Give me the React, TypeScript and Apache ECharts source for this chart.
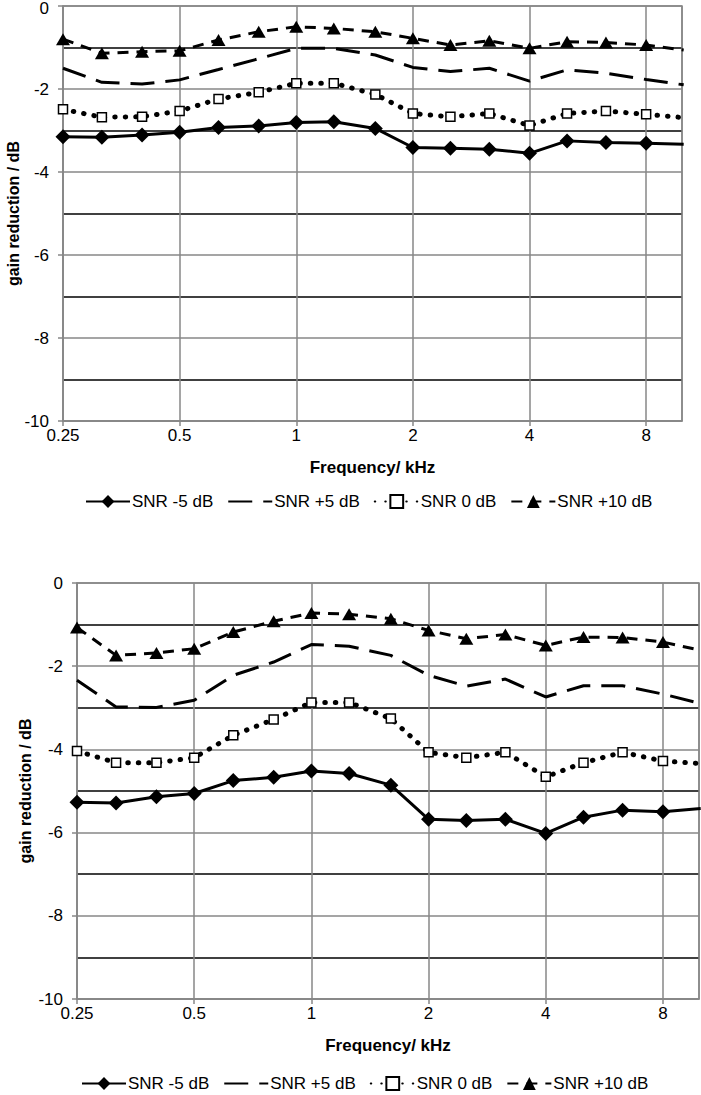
import React, { useEffect, useRef } from "react";
import * as echarts from "echarts";

const FONT = "'Liberation Sans', Arial, sans-serif";

const freqs = [0.25, 0.315, 0.4, 0.5, 0.63, 0.8, 1, 1.25, 1.6, 2, 2.5, 3.15, 4, 5, 6.3, 8, 10];
const seriesNames = ["SNR -5 dB", "SNR +5 dB", "SNR 0 dB", "SNR +10 dB"];
const yTicks = [0, -2, -4, -6, -8, -10];
const xTickLabels = ["0.25", "0.5", "1", "2", "4", "8"];

// top panel
const topM5 = [-3.15, -3.16, -3.11, -3.04, -2.93, -2.89, -2.81, -2.79, -2.95, -3.41, -3.43, -3.45, -3.55, -3.25, -3.29, -3.31, -3.33];
const topP5 = [-1.5, -1.84, -1.88, -1.78, -1.53, -1.27, -1.02, -1.02, -1.18, -1.48, -1.58, -1.5, -1.81, -1.54, -1.62, -1.77, -1.9];
const top0 = [-2.49, -2.68, -2.67, -2.53, -2.24, -2.08, -1.86, -1.86, -2.13, -2.59, -2.67, -2.59, -2.88, -2.59, -2.53, -2.61, -2.69];
const topP10 = [-0.8, -1.14, -1.1, -1.08, -0.82, -0.62, -0.5, -0.54, -0.62, -0.78, -0.94, -0.84, -1.02, -0.86, -0.88, -0.94, -1.06];

// bottom panel
const botM5 = [-5.27, -5.29, -5.14, -5.06, -4.75, -4.67, -4.52, -4.58, -4.86, -5.68, -5.71, -5.68, -6.02, -5.63, -5.46, -5.5, -5.42];
const botP5 = [-2.34, -2.98, -2.99, -2.82, -2.22, -1.9, -1.48, -1.52, -1.74, -2.22, -2.48, -2.31, -2.74, -2.47, -2.47, -2.67, -2.9];
const bot0 = [-4.04, -4.32, -4.32, -4.2, -3.66, -3.28, -2.87, -2.87, -3.26, -4.07, -4.2, -4.07, -4.66, -4.32, -4.07, -4.28, -4.34];
const botP10 = [-1.07, -1.74, -1.68, -1.58, -1.18, -0.92, -0.72, -0.75, -0.86, -1.14, -1.34, -1.24, -1.5, -1.3, -1.31, -1.42, -1.62];

const GRAY = "#878787";
const FS = 17;

function xAxisFor(gridIndex: number) {
  return {
    type: "log",
    logBase: 2,
    min: 0.25,
    max: 9.9,
    gridIndex,
    name: "Frequency/ kHz",
    nameLocation: "middle",
    nameGap: 38,
    nameTextStyle: { fontFamily: FONT, fontWeight: "bold", fontSize: FS, color: "#000" },
    axisLine: { show: true, onZero: false, lineStyle: { color: GRAY, width: 1.5 } },
    axisTick: { show: true, length: 5, lineStyle: { color: GRAY, width: 1.5 } },
    axisLabel: {
      fontFamily: FONT,
      fontSize: FS,
      color: "#000",
      margin: 6,
      showMaxLabel: false,
      formatter: (v: number) => {
        const s = String(Number(v.toPrecision(3)));
        return xTickLabels.indexOf(s) >= 0 ? s : "";
      },
    },
    splitLine: { show: true, lineStyle: { color: GRAY, width: 1.5 } },
  };
}

function yAxisFor(gridIndex: number, nameGap: number, nudgeTop: boolean) {
  return {
    type: "value",
    min: yTicks[yTicks.length - 1],
    max: yTicks[0],
    interval: 2,
    gridIndex,
    name: "gain reduction / dB",
    nameLocation: "middle",
    nameGap,
    nameMoveOverlap: false,
    nameTextStyle: { fontFamily: FONT, fontWeight: "bold", fontSize: 16, color: "#000" },
    axisLine: { show: true, lineStyle: { color: GRAY, width: 1.5 } },
    axisTick: { show: true, length: 5, lineStyle: { color: GRAY, width: 1.5 } },
    axisLabel: {
      fontFamily: FONT,
      fontSize: FS,
      color: "#000",
      margin: 14,
      formatter: (v: number) => (nudgeTop && v === 0 ? "{top|" + v + "}" : String(v)),
      rich: { top: { fontFamily: FONT, fontSize: FS, color: "#000", padding: [5, 0, 0, 0] } },
    },
    splitLine: { show: true, lineStyle: { color: GRAY, width: 1.5 } },
    minorTick: { show: false, splitNumber: 2 },
    minorSplitLine: { show: true, lineStyle: { color: "#000", width: 1.5 } },
  };
}

const styles = [
  { symbol: "diamond", symbolSize: 15, lineStyle: { color: "#000", width: 3, type: "solid" }, itemStyle: { color: "#000" } },
  { symbol: "none", symbolSize: 0, lineStyle: { color: "#000", width: 3, type: [24, 11] }, itemStyle: { color: "#000" } },
  { symbol: "rect", symbolSize: 9, lineStyle: { color: "#000", width: 5, type: [0.5, 10], cap: "round" }, itemStyle: { color: "#fff", borderColor: "#000", borderWidth: 1.5 } },
  { symbol: "triangle", symbolSize: [14, 12], lineStyle: { color: "#000", width: 3, type: [11, 8] }, itemStyle: { color: "#000" } },
];

function makeSeries(idx: number, values: number[][]) {
  return values.map((vals, s) => ({
    type: "line",
    name: seriesNames[s],
    xAxisIndex: idx,
    yAxisIndex: idx,
    data: freqs.map((f, i) => [f, vals[i]]),
    clip: true,
    showSymbol: styles[s].symbol !== "none",
    ...styles[s],
    z: 10 - s,
  }));
}

function legendFor(top: number, left: number) {
  return {
    top,
    left,
    itemWidth: 44,
    itemHeight: 16,
    itemGap: 14,
    data: seriesNames.map((n) =>
      n === "SNR +5 dB"
        ? { name: n, itemStyle: { color: "rgba(0,0,0,0)", borderColor: "rgba(0,0,0,0)", borderWidth: 0 } }
        : { name: n }
    ),
    textStyle: { fontFamily: FONT, fontSize: FS, color: "#000", padding: [0, 0, 0, -3] },
    selectedMode: false,
  };
}

export default function App() {
  const ref = useRef<HTMLDivElement>(null);
  useEffect(() => {
    if (!ref.current) return;
    const chart = echarts.init(ref.current, undefined, { renderer: "svg" });
    chart.setOption({
      animation: false,
      backgroundColor: "#fff",
      textStyle: { fontFamily: FONT },
      grid: [
        { left: 63, top: 6, width: 619, height: 415, show: true, borderColor: GRAY, borderWidth: 1.5, containLabel: false, outerBoundsMode: "none" },
        { left: 77, top: 583, width: 622, height: 416, show: true, borderColor: GRAY, borderWidth: 1.5, containLabel: false, outerBoundsMode: "none" },
      ],
      xAxis: [xAxisFor(0), xAxisFor(1)],
      yAxis: [yAxisFor(0, 42, true), yAxisFor(1, 44, false)],
      legend: [legendFor(488, 80), legendFor(1070, 76)],
      series: [
        ...makeSeries(0, [topM5, topP5, top0, topP10]),
        ...makeSeries(1, [botM5, botP5, bot0, botP10]),
      ],
    });
    return () => chart.dispose();
  }, []);
  return (
    <div
      ref={ref}
      style={{ position: "absolute", left: 0, top: 0, width: 701, height: 1095 }}
    />
  );
}
